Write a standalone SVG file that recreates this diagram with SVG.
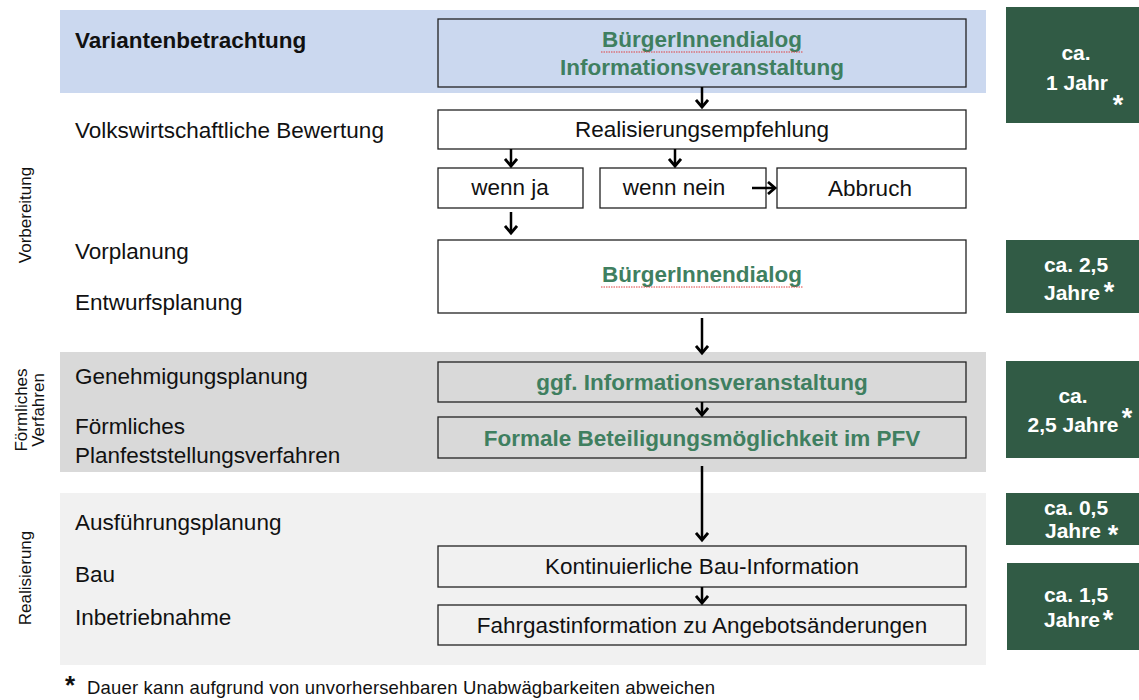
<svg xmlns="http://www.w3.org/2000/svg" width="1139" height="700" viewBox="0 0 1139 700">
<defs>
<style>
.t{font-family:"Liberation Sans",Arial,sans-serif;font-size:22.5px;fill:#111}
.b{font-weight:bold}
.g{font-family:"Liberation Sans",Arial,sans-serif;font-size:22.5px;font-weight:bold;fill:#3f7f60;text-anchor:middle}
.c{text-anchor:middle}
.box{stroke:#222;stroke-width:1.3}
.gb{fill:#315b45}
.w{font-family:"Liberation Sans",Arial,sans-serif;font-size:21px;font-weight:bold;fill:#fff;text-anchor:middle}
.st{font-size:27px}
.side{font-family:"Liberation Sans",Arial,sans-serif;font-size:17px;fill:#111;text-anchor:middle}
.arr{stroke:#000;stroke-width:2.5;fill:none}
.sq{stroke:#e04040;stroke-width:1;fill:none;stroke-dasharray:1.5 1}
</style>
<marker id="ah" markerWidth="12" markerHeight="14" refX="8" refY="7" orient="auto" markerUnits="userSpaceOnUse">
<path d="M1,1 L8,7 L1,13" fill="none" stroke="#000" stroke-width="2.8"/>
</marker>
</defs>
<rect width="1139" height="700" fill="#fff"/>
<!-- bands -->
<rect x="60" y="10" width="926" height="83" fill="#cbd8ef"/>
<rect x="60" y="352" width="926" height="120" fill="#d9d9d9"/>
<rect x="60" y="493" width="926" height="172" fill="#f1f1f1"/>

<!-- side labels -->
<text class="side" transform="translate(31,215) rotate(-90)">Vorbereitung</text>
<text class="side" transform="translate(27,410) rotate(-90)">Förmliches</text>
<text class="side" transform="translate(44,410) rotate(-90)">Verfahren</text>
<text class="side" transform="translate(31,578) rotate(-90)">Realisierung</text>

<!-- left labels -->
<g id="labels">
<text class="t b" x="75" y="48">Variantenbetrachtung</text>
<text class="t" x="75" y="138">Volkswirtschaftliche Bewertung</text>
<text class="t" x="75" y="259">Vorplanung</text>
<text class="t" x="75" y="310">Entwurfsplanung</text>
<text class="t" x="75" y="384">Genehmigungsplanung</text>
<text class="t" x="75" y="434">Förmliches</text>
<text class="t" x="75" y="463">Planfeststellungsverfahren</text>
<text class="t" x="75" y="530">Ausführungsplanung</text>
<text class="t" x="75" y="582">Bau</text>
<text class="t" x="75" y="625">Inbetriebnahme</text>
</g>

<g id="n-dialog1">
<rect class="box" x="438" y="19" width="528" height="68" fill="#cbd8ef"/>
<text class="g" x="702" y="47">BürgerInnendialog</text>
<path class="sq" d="M601,52 L803,52"/>
<text class="g" x="702" y="75">Informationsveranstaltung</text>
</g>
<g id="n-empf">
<rect class="box" x="438" y="110" width="528" height="39" fill="#fff"/>
<text class="t c" x="702" y="137">Realisierungsempfehlung</text>
</g>
<g id="n-ja">
<rect class="box" x="438" y="168" width="145" height="40" fill="#fff"/>
<text class="t c" x="510" y="195">wenn ja</text>
</g>
<g id="n-nein">
<rect class="box" x="600" y="168" width="166" height="40" fill="#fff"/>
<text class="t c" x="674" y="195">wenn nein</text>
</g>
<g id="n-abbruch">
<rect class="box" x="777" y="168" width="189" height="40" fill="#fff"/>
<text class="t c" x="870" y="196">Abbruch</text>
</g>
<g id="n-dialog2">
<rect class="box" x="438" y="240" width="528" height="73" fill="#fff"/>
<text class="g" x="702" y="282">BürgerInnendialog</text>
<path class="sq" d="M601,287 L803,287"/>
</g>
<g id="n-ggf">
<rect class="box" x="438" y="362" width="528" height="40" fill="#d9d9d9"/>
<text class="g" x="702" y="390">ggf. Informationsveranstaltung</text>
</g>
<g id="n-formal">
<rect class="box" x="438" y="417" width="528" height="41" fill="#d9d9d9"/>
<text class="g" x="702" y="446">Formale Beteiligungsmöglichkeit im PFV</text>
</g>
<g id="n-bau">
<rect class="box" x="438" y="546" width="528" height="41" fill="#f1f1f1"/>
<text class="t c" x="702" y="574">Kontinuierliche Bau-Information</text>
</g>
<g id="n-fahrgast">
<rect class="box" x="438" y="605" width="528" height="40" fill="#f1f1f1"/>
<text class="t c" x="702" y="633">Fahrgastinformation zu Angebotsänderungen</text>
</g>

<!-- duration boxes -->
<g id="d1"><rect class="gb" x="1006" y="7" width="133" height="116"/>
<text class="w" x="1076" y="60">ca.</text><text class="w" x="1077" y="90">1 Jahr</text><text class="w st" x="1118" y="114">*</text></g>
<g id="d2"><rect class="gb" x="1006" y="240" width="133" height="73"/>
<text class="w" x="1076" y="272">ca. 2,5</text><text class="w" x="1072" y="300">Jahre</text><text class="w st" x="1109" y="301">*</text></g>
<g id="d3"><rect class="gb" x="1006" y="361" width="133" height="97"/>
<text class="w" x="1073" y="403">ca.</text><text class="w" x="1073" y="432">2,5 Jahre</text><text class="w st" x="1127" y="427">*</text></g>
<g id="d4"><rect class="gb" x="1006" y="493" width="133" height="52"/>
<text class="w" x="1076" y="515">ca. 0,5</text><text class="w" x="1073" y="538">Jahre</text><text class="w st" x="1113" y="544">*</text></g>
<g id="d5"><rect class="gb" x="1007" y="563" width="132" height="87"/>
<text class="w" x="1076" y="602">ca. 1,5</text><text class="w" x="1072" y="627">Jahre</text><text class="w st" x="1108" y="629">*</text></g>

<g id="connectors">
<line class="arr" x1="702" y1="87" x2="702" y2="107" marker-end="url(#ah)"/>
<line class="arr" x1="511" y1="149" x2="511" y2="166" marker-end="url(#ah)"/>
<line class="arr" x1="675" y1="149" x2="675" y2="166" marker-end="url(#ah)"/>
<line class="arr" x1="752" y1="188" x2="775" y2="188" marker-end="url(#ah)"/>
<line class="arr" x1="511" y1="212" x2="511" y2="233" marker-end="url(#ah)"/>
<line class="arr" x1="702" y1="318" x2="702" y2="353" marker-end="url(#ah)"/>
<line class="arr" x1="702" y1="402" x2="702" y2="415" marker-end="url(#ah)"/>
<line class="arr" x1="702" y1="466" x2="702" y2="540" marker-end="url(#ah)"/>
<line class="arr" x1="702" y1="587" x2="702" y2="603" marker-end="url(#ah)"/>
</g>

<text x="65" y="694" style="font-family:'Liberation Sans',Arial,sans-serif;font-size:26px;font-weight:bold;fill:#111">*</text>
<text x="87" y="694" textLength="628" lengthAdjust="spacing" style="font-family:'Liberation Sans',Arial,sans-serif;font-size:18.5px;fill:#111">Dauer kann aufgrund von unvorhersehbaren Unabwägbarkeiten abweichen</text>
</svg>
